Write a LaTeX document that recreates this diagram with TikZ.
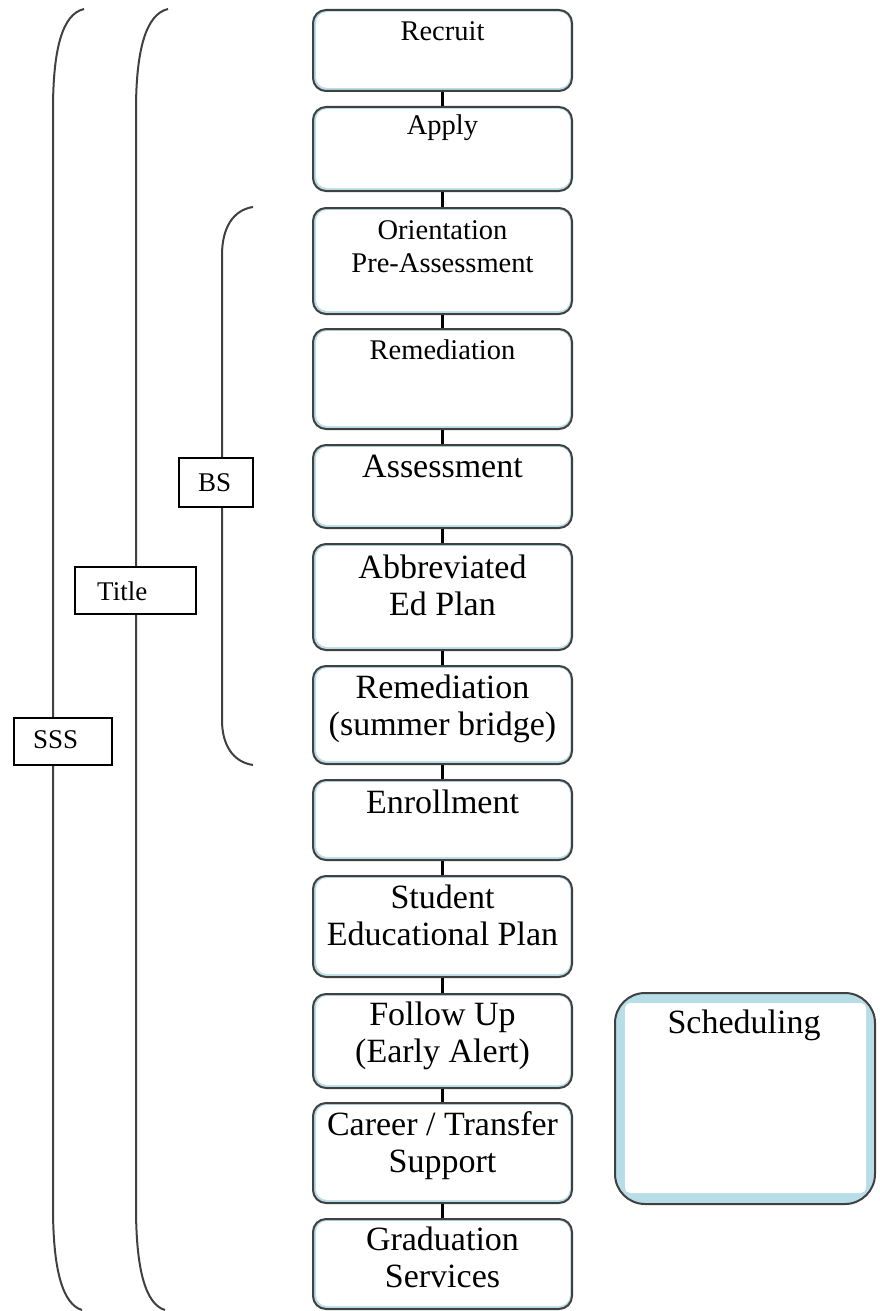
\documentclass[tikz,border=0pt]{standalone}
\usepackage{fontspec}
\setmainfont{Liberation Serif}
\definecolor{edgeblue}{RGB}{183,221,230}
\definecolor{rim}{RGB}{64,64,64}
\begin{document}
\begin{tikzpicture}[x=1pt,y=-1pt,
  stepbox/.style={draw=rim, line width=2pt, fill=edgeblue, rounded corners=13pt,
    minimum width=259pt, inner sep=0pt, anchor=north,
    path picture={\fill[white, rounded corners=11pt]
      ([xshift=3pt,yshift=3pt]path picture bounding box.south west) rectangle
      ([xshift=-2pt,yshift=-2pt]path picture bounding box.north east);}},
  schedbox/.style={draw=rim, line width=2pt, fill=edgeblue, rounded corners=30pt,
    inner sep=0pt, anchor=north west,
    path picture={\fill[white, rounded corners=5pt]
      ([xshift=10pt,yshift=11pt]path picture bounding box.south west) rectangle
      ([xshift=-9pt,yshift=-10pt]path picture bounding box.north east);}},
  small/.style={font=\fontsize{28.5}{33}\selectfont, anchor=base, inner sep=0pt, align=center},
  big/.style={font=\fontsize{34}{37}\selectfont, anchor=base, inner sep=0pt, align=center},
  link/.style={draw=black, line width=3.8pt},
  brace/.style={draw=rim, line width=2pt},
  labelbox/.style={draw=black, line width=1.5pt, fill=white, inner sep=0pt, anchor=north west},
  labeltext/.style={font=\fontsize{27}{30}\selectfont, inner sep=0pt, anchor=base west}]

\useasboundingbox (0,0) rectangle (879,1311);

% grouping brackets on the left
\draw[brace] (84,9) .. controls (62,14) and (53,50) .. (53,110) -- (53,1207)
  .. controls (53,1268) and (62,1304) .. (82,1310);
\draw[brace] (168,9) .. controls (146,14) and (136,50) .. (136,110) -- (136,1207)
  .. controls (136,1268) and (145,1304) .. (165,1310);
\draw[brace] (253,207) .. controls (233,210) and (222,228) .. (222,255) -- (222,720)
  .. controls (222,745) and (233,762) .. (253,765);

% bracket labels
\node[labelbox, minimum width=98pt, minimum height=47pt] (sss) at (13,717) {};
\node[labeltext] (sssT) at (33,748) {SSS};
\node[labelbox, minimum width=121pt, minimum height=47pt] (title) at (74,566) {};
\node[labeltext] (titleT) at (97,600) {Title};
\node[labelbox, minimum width=74pt, minimum height=49pt] (bs) at (178,457) {};
\node[labeltext] (bsT) at (198,491) {BS};

% process steps
\node[stepbox, minimum height=81pt]  (recruit)  at (442.5,9)    {};
\node[stepbox, minimum height=84pt]  (apply)    at (442.5,106)  {};
\node[stepbox, minimum height=106pt] (orient)   at (442.5,207)  {};
\node[stepbox, minimum height=100pt] (remed)    at (442.5,328)  {};
\node[stepbox, minimum height=83pt]  (assess)   at (442.5,444)  {};
\node[stepbox, minimum height=106pt] (abbrev)   at (442.5,543)  {};
\node[stepbox, minimum height=98pt]  (bridge)   at (442.5,665)  {};
\node[stepbox, minimum height=80pt]  (enroll)   at (442.5,779)  {};
\node[stepbox, minimum height=101pt] (sep)      at (442.5,875)  {};
\node[stepbox, minimum height=94pt]  (follow)   at (442.5,993)  {};
\node[stepbox, minimum height=100pt] (career)   at (442.5,1102) {};
\node[stepbox, minimum height=90pt]  (grad)     at (442.5,1218) {};

\node[schedbox, minimum width=260pt, minimum height=211pt] (sched) at (614,992) {};

% connectors between consecutive steps
\foreach \a/\b in {recruit/apply, apply/orient, orient/remed, remed/assess,
  assess/abbrev, abbrev/bridge, bridge/enroll, enroll/sep, sep/follow,
  follow/career, career/grad}
  \draw[link] (\a.south) -- (\b.north);

% step texts (base anchor sits on the last line)
\node[small] (recruitT) at (442.5,41)   {Recruit};
\node[small] (applyT)   at (442.5,135)  {Apply};
\node[small] (orientT)  at (442.5,272)  {Orientation\\Pre-Assessment};
\node[small] (remedT)   at (442.5,359)  {Remediation};
\node[big]   (assessT)  at (442.5,477)  {Assessment};
\node[big]   (abbrevT)  at (442.5,615)  {Abbreviated\\Ed Plan};
\node[big]   (bridgeT)  at (442.5,735)  {Remediation\\(summer bridge)};
\node[big]   (enrollT)  at (442.5,813)  {Enrollment};
\node[big]   (sepT)     at (442.5,945)  {Student\\Educational Plan};
\node[big]   (followT)  at (442.5,1062) {Follow Up\\(Early Alert)};
\node[big]   (careerT)  at (442.5,1172) {Career / Transfer\\Support};
\node[big]   (gradT)    at (442.5,1287) {Graduation\\Services};
\node[big]   (schedT)   at (744,1033)   {Scheduling};
\end{tikzpicture}
\end{document}
